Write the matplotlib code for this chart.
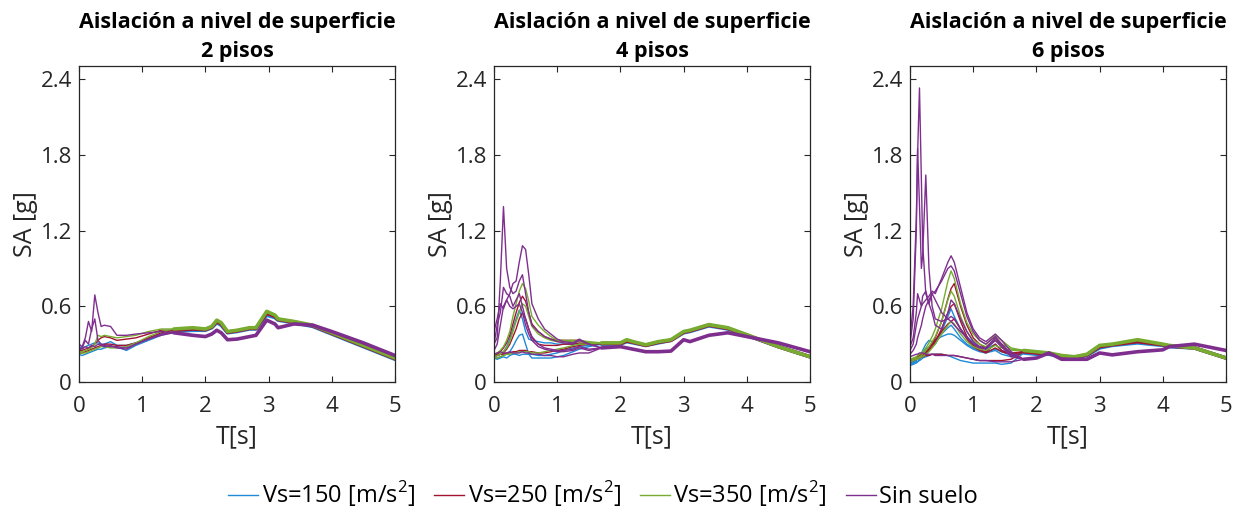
import matplotlib
matplotlib.use("Agg")
import matplotlib.pyplot as plt
from matplotlib.lines import Line2D

plt.rcParams["font.family"] = ["Open Sans", "DejaVu Sans"]
plt.rcParams["mathtext.fontset"] = "custom"
plt.rcParams["mathtext.rm"] = "Open Sans"

# MATLAB-like default colours for the four groups
COLORS = {"blue": "#1f8ad8", "red": "#a2142f", "green": "#77ac30", "purple": "#7e2f8e"}
GROUP_ORDER = ["blue", "red", "green", "purple"]
LEGEND_LABELS = [r"Vs=150 [m/s$^\mathregular{2}$]", r"Vs=250 [m/s$^\mathregular{2}$]",
                 r"Vs=350 [m/s$^\mathregular{2}$]", "Sin suelo"]
TITLES = ["Aislación a nivel de superficie\n2 pisos",
          "Aislación a nivel de superficie\n4 pisos",
          "Aislación a nivel de superficie\n6 pisos"]

# ---------------- 2 pisos ----------------
T2P_HEAD = [0, 0.05, 0.1, 0.15, 0.2, 0.25, 0.3, 0.35, 0.4, 0.5, 0.6, 0.75, 0.9, 1.1, 1.3]
T2P_TAIL = [1.5, 1.8, 2.0, 2.1, 2.18, 2.25, 2.35, 2.5, 2.7, 2.8, 2.97, 3.1, 3.15, 3.4, 3.7, 4.0, 4.5, 5.0]

P2_TAIL_BLUE = [0.40, 0.41, 0.41, 0.43, 0.47, 0.45, 0.39, 0.40, 0.42, 0.42, 0.53, 0.51, 0.49, 0.47, 0.44, 0.38, 0.28, 0.18]
P2_TAIL_RED = [0.41, 0.42, 0.415, 0.435, 0.48, 0.46, 0.395, 0.405, 0.425, 0.425, 0.545, 0.52, 0.495, 0.475, 0.445, 0.385, 0.285, 0.185]
P2_TAIL_GREEN = [0.42, 0.43, 0.42, 0.44, 0.49, 0.47, 0.40, 0.41, 0.43, 0.43, 0.56, 0.53, 0.50, 0.48, 0.45, 0.39, 0.29, 0.19]
P2_TAIL_PURPLE = [0.39, 0.37, 0.36, 0.38, 0.41, 0.39, 0.335, 0.34, 0.36, 0.37, 0.49, 0.46, 0.43, 0.46, 0.45, 0.40, 0.31, 0.21]

P2_BLUE = [
    [0.22, 0.21, 0.22, 0.23, 0.24, 0.25, 0.26, 0.26, 0.27, 0.28, 0.28, 0.25, 0.29, 0.33, 0.37],
    [0.28, 0.27, 0.28, 0.29, 0.30, 0.31, 0.31, 0.30, 0.30, 0.32, 0.29, 0.29, 0.31, 0.34, 0.38],
]
P2_RED = [
    [0.25, 0.25, 0.26, 0.27, 0.28, 0.30, 0.33, 0.35, 0.36, 0.35, 0.33, 0.34, 0.35, 0.38, 0.41],
    [0.23, 0.23, 0.24, 0.25, 0.26, 0.27, 0.28, 0.29, 0.30, 0.30, 0.29, 0.29, 0.31, 0.35, 0.39],
]
P2_GREEN = [
    [0.24, 0.24, 0.25, 0.26, 0.27, 0.30, 0.37, 0.36, 0.37, 0.36, 0.35, 0.36, 0.37, 0.40, 0.42],
    [0.22, 0.23, 0.23, 0.24, 0.25, 0.26, 0.27, 0.28, 0.28, 0.27, 0.27, 0.28, 0.31, 0.36, 0.40],
]
P2_PURPLE = [
    [0.30, 0.28, 0.35, 0.48, 0.40, 0.69, 0.55, 0.44, 0.45, 0.44, 0.37, 0.37, 0.38, 0.39, 0.40],
    [0.25, 0.27, 0.33, 0.30, 0.42, 0.50, 0.33, 0.30, 0.29, 0.28, 0.28, 0.27, 0.30, 0.34, 0.37],
    [0.27, 0.26, 0.28, 0.27, 0.29, 0.28, 0.30, 0.29, 0.28, 0.29, 0.27, 0.26, 0.30, 0.34, 0.38],
]

# ---------------- 4 pisos ----------------
T4P_HEAD = [0, 0.05, 0.1, 0.15, 0.2, 0.25, 0.3, 0.35, 0.4, 0.45, 0.5, 0.55, 0.6, 0.7, 0.8, 0.9, 1.0, 1.1, 1.25, 1.35, 1.5]
T4P_TAIL = [1.7, 2.0, 2.1, 2.2, 2.4, 2.6, 2.8, 3.0, 3.1, 3.4, 3.7, 4.0, 4.5, 5.0]

P4_TAIL_BLUE = [0.30, 0.30, 0.32, 0.31, 0.29, 0.31, 0.33, 0.39, 0.40, 0.445, 0.42, 0.37, 0.28, 0.20]
P4_TAIL_RED = [0.305, 0.305, 0.325, 0.315, 0.29, 0.315, 0.33, 0.395, 0.405, 0.45, 0.425, 0.372, 0.28, 0.20]
P4_TAIL_GREEN = [0.31, 0.31, 0.335, 0.32, 0.295, 0.32, 0.335, 0.40, 0.41, 0.455, 0.43, 0.375, 0.28, 0.20]
P4_TAIL_PURPLE = [0.27, 0.28, 0.27, 0.26, 0.24, 0.24, 0.245, 0.335, 0.32, 0.37, 0.39, 0.36, 0.31, 0.24]

P4_BLUE = [
    [0.20, 0.21, 0.22, 0.24, 0.28, 0.34, 0.42, 0.50, 0.57, 0.50, 0.40, 0.34, 0.33, 0.32, 0.31, 0.31, 0.30, 0.30, 0.30, 0.30, 0.30],
    [0.19, 0.19, 0.20, 0.21, 0.22, 0.24, 0.28, 0.33, 0.37, 0.38, 0.30, 0.22, 0.19, 0.19, 0.19, 0.19, 0.20, 0.21, 0.24, 0.26, 0.28],
    [0.19, 0.18, 0.19, 0.20, 0.19, 0.21, 0.22, 0.22, 0.21, 0.22, 0.22, 0.22, 0.22, 0.21, 0.21, 0.22, 0.23, 0.25, 0.27, 0.28, 0.29],
]
P4_RED = [
    [0.21, 0.22, 0.24, 0.27, 0.31, 0.37, 0.46, 0.55, 0.63, 0.68, 0.64, 0.55, 0.46, 0.40, 0.36, 0.34, 0.33, 0.33, 0.33, 0.33, 0.31],
    [0.20, 0.21, 0.22, 0.23, 0.26, 0.30, 0.36, 0.42, 0.50, 0.55, 0.50, 0.42, 0.35, 0.30, 0.29, 0.29, 0.29, 0.30, 0.30, 0.31, 0.30],
    [0.21, 0.21, 0.22, 0.22, 0.23, 0.23, 0.24, 0.24, 0.25, 0.25, 0.25, 0.24, 0.24, 0.23, 0.23, 0.24, 0.25, 0.26, 0.28, 0.29, 0.30],
]
P4_GREEN = [
    [0.22, 0.23, 0.25, 0.28, 0.33, 0.40, 0.52, 0.62, 0.72, 0.78, 0.74, 0.64, 0.52, 0.45, 0.40, 0.36, 0.33, 0.33, 0.33, 0.33, 0.32],
    [0.20, 0.21, 0.22, 0.24, 0.27, 0.32, 0.40, 0.48, 0.55, 0.62, 0.60, 0.52, 0.44, 0.38, 0.35, 0.33, 0.32, 0.32, 0.32, 0.32, 0.31],
    [0.19, 0.19, 0.20, 0.21, 0.22, 0.22, 0.23, 0.23, 0.24, 0.24, 0.24, 0.24, 0.23, 0.23, 0.24, 0.25, 0.26, 0.27, 0.29, 0.30, 0.30],
]
P4_PURPLE = [
    [0.30, 0.35, 0.80, 1.39, 0.90, 0.75, 0.70, 0.72, 0.80, 0.85, 0.70, 0.55, 0.45, 0.40, 0.36, 0.34, 0.32, 0.31, 0.30, 0.33, 0.30],
    [0.25, 0.30, 0.45, 0.60, 0.65, 0.70, 0.78, 0.80, 0.95, 1.08, 1.05, 0.85, 0.62, 0.50, 0.42, 0.38, 0.34, 0.32, 0.31, 0.34, 0.30],
    [0.40, 0.50, 0.62, 0.58, 0.65, 0.60, 0.58, 0.60, 0.62, 0.55, 0.45, 0.38, 0.33, 0.28, 0.26, 0.25, 0.24, 0.24, 0.25, 0.27, 0.25],
    [0.30, 0.45, 0.55, 0.75, 0.70, 0.68, 0.60, 0.65, 0.70, 0.60, 0.50, 0.42, 0.36, 0.30, 0.27, 0.26, 0.25, 0.25, 0.26, 0.28, 0.26],
    [0.22, 0.23, 0.24, 0.23, 0.23, 0.24, 0.23, 0.23, 0.23, 0.24, 0.23, 0.23, 0.22, 0.22, 0.21, 0.21, 0.20, 0.20, 0.22, 0.23, 0.23],
]

# ---------------- 6 pisos ----------------
T6P_HEAD = [0, 0.05, 0.1, 0.12, 0.15, 0.18, 0.2, 0.25, 0.3, 0.35, 0.4, 0.5, 0.6, 0.65, 0.7, 0.8, 0.9, 1.0, 1.1, 1.2, 1.35, 1.45, 1.6]
T6P_TAIL = [1.8, 2.0, 2.2, 2.4, 2.6, 2.8, 3.0, 3.2, 3.6, 4.0, 4.1, 4.5, 5.0]

P6_TAIL_BLUE = [0.23, 0.22, 0.22, 0.20, 0.19, 0.21, 0.27, 0.29, 0.31, 0.29, 0.28, 0.27, 0.19]
P6_TAIL_RED = [0.24, 0.23, 0.225, 0.205, 0.195, 0.215, 0.28, 0.295, 0.32, 0.295, 0.285, 0.27, 0.19]
P6_TAIL_GREEN = [0.25, 0.24, 0.23, 0.21, 0.20, 0.22, 0.29, 0.30, 0.335, 0.30, 0.29, 0.27, 0.19]
P6_TAIL_PURPLE = [0.18, 0.19, 0.23, 0.18, 0.18, 0.18, 0.23, 0.215, 0.24, 0.255, 0.28, 0.30, 0.25]

P6_BLUE = [
    [0.14, 0.15, 0.17, 0.18, 0.20, 0.22, 0.25, 0.30, 0.33, 0.32, 0.30, 0.40, 0.52, 0.58, 0.52, 0.42, 0.36, 0.31, 0.28, 0.26, 0.30, 0.25, 0.22],
    [0.13, 0.14, 0.15, 0.16, 0.18, 0.20, 0.22, 0.26, 0.28, 0.30, 0.32, 0.38, 0.43, 0.45, 0.42, 0.35, 0.30, 0.27, 0.25, 0.24, 0.26, 0.24, 0.21],
    [0.15, 0.16, 0.18, 0.19, 0.21, 0.22, 0.23, 0.25, 0.27, 0.30, 0.33, 0.36, 0.38, 0.38, 0.37, 0.33, 0.29, 0.26, 0.24, 0.23, 0.25, 0.22, 0.20],
    [0.14, 0.15, 0.16, 0.16, 0.17, 0.18, 0.19, 0.20, 0.21, 0.22, 0.22, 0.22, 0.21, 0.20, 0.19, 0.17, 0.16, 0.15, 0.15, 0.15, 0.15, 0.14, 0.15],
]
P6_RED = [
    [0.17, 0.18, 0.19, 0.19, 0.20, 0.21, 0.21, 0.23, 0.26, 0.30, 0.35, 0.48, 0.66, 0.74, 0.78, 0.60, 0.45, 0.35, 0.30, 0.27, 0.34, 0.28, 0.23],
    [0.16, 0.17, 0.18, 0.18, 0.19, 0.20, 0.20, 0.22, 0.25, 0.28, 0.32, 0.42, 0.55, 0.60, 0.62, 0.48, 0.36, 0.29, 0.26, 0.24, 0.30, 0.25, 0.22],
    [0.17, 0.18, 0.19, 0.20, 0.21, 0.22, 0.22, 0.24, 0.27, 0.30, 0.33, 0.40, 0.46, 0.48, 0.50, 0.42, 0.34, 0.28, 0.25, 0.23, 0.27, 0.24, 0.22],
    [0.18, 0.18, 0.19, 0.19, 0.20, 0.20, 0.20, 0.21, 0.21, 0.22, 0.22, 0.22, 0.21, 0.21, 0.21, 0.20, 0.19, 0.18, 0.17, 0.17, 0.17, 0.17, 0.18],
]
P6_GREEN = [
    [0.18, 0.19, 0.20, 0.21, 0.22, 0.23, 0.24, 0.27, 0.31, 0.36, 0.42, 0.58, 0.80, 0.88, 0.82, 0.62, 0.47, 0.38, 0.33, 0.30, 0.37, 0.33, 0.27],
    [0.17, 0.18, 0.19, 0.19, 0.20, 0.21, 0.22, 0.25, 0.28, 0.32, 0.36, 0.48, 0.65, 0.72, 0.68, 0.52, 0.40, 0.33, 0.30, 0.28, 0.34, 0.30, 0.26],
    [0.16, 0.17, 0.18, 0.18, 0.19, 0.20, 0.20, 0.22, 0.24, 0.27, 0.30, 0.38, 0.45, 0.48, 0.46, 0.38, 0.32, 0.28, 0.26, 0.25, 0.29, 0.27, 0.25],
]
P6_PURPLE = [
    [0.35, 0.60, 1.30, 1.80, 2.33, 1.60, 1.10, 0.70, 0.62, 0.55, 0.45, 0.42, 0.55, 0.65, 0.62, 0.50, 0.40, 0.32, 0.28, 0.27, 0.35, 0.30, 0.22],
    [0.30, 0.50, 1.20, 1.85, 1.40, 0.90, 1.00, 1.64, 0.90, 0.60, 0.50, 0.48, 0.50, 0.52, 0.50, 0.42, 0.35, 0.30, 0.27, 0.26, 0.33, 0.28, 0.20],
    [0.28, 0.35, 0.55, 0.70, 0.65, 0.60, 0.68, 0.72, 0.62, 0.70, 0.65, 0.55, 0.50, 0.48, 0.45, 0.40, 0.35, 0.30, 0.28, 0.27, 0.33, 0.28, 0.21],
    [0.25, 0.30, 0.45, 0.50, 0.55, 0.60, 0.62, 0.65, 0.68, 0.72, 0.70, 0.82, 0.95, 1.00, 0.95, 0.75, 0.55, 0.42, 0.35, 0.32, 0.38, 0.33, 0.24],
    [0.22, 0.25, 0.30, 0.35, 0.40, 0.45, 0.50, 0.60, 0.65, 0.70, 0.72, 0.80, 0.90, 0.92, 0.88, 0.70, 0.52, 0.40, 0.33, 0.30, 0.36, 0.30, 0.22],
    [0.20, 0.21, 0.22, 0.22, 0.23, 0.23, 0.23, 0.22, 0.22, 0.22, 0.21, 0.21, 0.21, 0.21, 0.21, 0.20, 0.19, 0.18, 0.17, 0.17, 0.16, 0.16, 0.16],
]

PANELS = [
    (T2P_HEAD, T2P_TAIL,
     {"blue": P2_BLUE, "red": P2_RED, "green": P2_GREEN, "purple": P2_PURPLE},
     {"blue": P2_TAIL_BLUE, "red": P2_TAIL_RED, "green": P2_TAIL_GREEN, "purple": P2_TAIL_PURPLE}),
    (T4P_HEAD, T4P_TAIL,
     {"blue": P4_BLUE, "red": P4_RED, "green": P4_GREEN, "purple": P4_PURPLE},
     {"blue": P4_TAIL_BLUE, "red": P4_TAIL_RED, "green": P4_TAIL_GREEN, "purple": P4_TAIL_PURPLE}),
    (T6P_HEAD, T6P_TAIL,
     {"blue": P6_BLUE, "red": P6_RED, "green": P6_GREEN, "purple": P6_PURPLE},
     {"blue": P6_TAIL_BLUE, "red": P6_TAIL_RED, "green": P6_TAIL_GREEN, "purple": P6_TAIL_PURPLE}),
]

AX_LEFTS = [79, 494, 910]
AXIS_COLOR = "#262626"

fig = plt.figure(figsize=(12.43, 5.13), dpi=100)
W, H = 1243, 513

for i, (t_head, t_tail, heads, tails) in enumerate(PANELS):
    ax = fig.add_axes([AX_LEFTS[i] / W, (H - 382) / H, 316 / W, 315.5 / H])
    for g in GROUP_ORDER:
        c = COLORS[g]
        # bundle of near-identical long-period curves looks thick
        ax.plot(t_tail, tails[g], color=c, lw=2.6, solid_capstyle="round", zorder=2)
        for head in heads[g]:
            ax.plot(t_head + t_tail, head + tails[g], color=c, lw=1.0, zorder=2)
    ax.set_xlim(0, 5)
    ax.set_ylim(0, 2.5)
    ax.set_xticks([0, 1, 2, 3, 4, 5])
    ax.set_yticks([0, 0.6, 1.2, 1.8, 2.4])
    ax.set_yticklabels(["0", "0.6", "1.2", "1.8", "2.4"])
    ax.tick_params(direction="in", top=True, right=True, length=4.5, width=0.8,
                   colors=AXIS_COLOR, labelsize=16, labelcolor=AXIS_COLOR)
    ax.tick_params(axis="x", pad=10)
    ax.tick_params(axis="y", pad=5)
    for sp in ax.spines.values():
        sp.set_color(AXIS_COLOR)
        sp.set_linewidth(0.9)
    ax.set_xlabel("T[s]", fontsize=18, color=AXIS_COLOR, labelpad=5)
    ax.set_ylabel("SA [g]", fontsize=18, color=AXIS_COLOR, labelpad=2)
    ax.set_title(TITLES[i], fontsize=15.5, fontweight="bold", color="black",
                 linespacing=1.5, pad=7)

handles = [Line2D([0], [0], color=COLORS[g], lw=1.0) for g in GROUP_ORDER]
fig.legend(handles, LEGEND_LABELS, loc="center", bbox_to_anchor=(603 / W, 1 - 494 / H),
           ncol=4, frameon=False, fontsize=17, handlelength=1.3, handletextpad=0.13,
           columnspacing=0.8, borderaxespad=0, borderpad=0)

fig.savefig("out.png", dpi=100)
